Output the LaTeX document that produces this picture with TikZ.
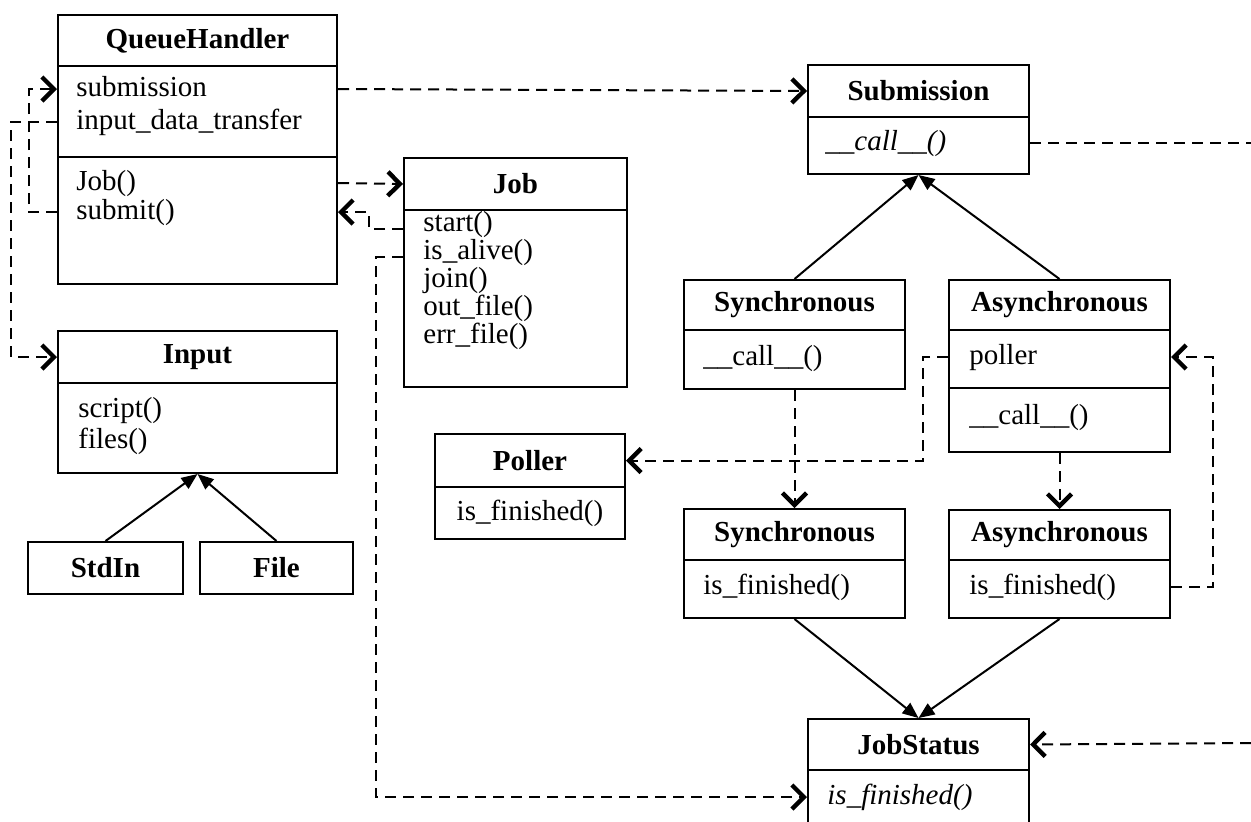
\documentclass[tikz,border=0pt]{standalone}
\usepackage{fontspec}
\setmainfont{Liberation Serif}
\usepackage{tikz}
\usetikzlibrary{arrows.meta}

\begin{document}
\begin{tikzpicture}[x=0.5pt,y=-0.5pt,
    every node/.style={font=\fontsize{14.5}{17}\selectfont},
    box/.style={draw=black,line width=1pt,anchor=north west,inner sep=0pt},
    member/.style={anchor=west,inner sep=0pt,text height=9pt,text depth=2pt},
    dep/.style={line width=1pt,dash pattern=on 5.5pt off 3.5pt,-{Straight Barb[length=6pt,width=12pt,line width=2.2pt]}},
    inherit/.style={line width=1pt,-{Triangle[length=8pt,width=6.5pt]}}]

    \useasboundingbox (0,0) rectangle (1251,821);
    \clip (0,0) rectangle (1251,821);

    % QueueHandler
    \node[box,minimum width=139.5pt,minimum height=25.5pt] (qh) at (57,14) {\textbf{QueueHandler}};
    \node[box,minimum width=139.5pt,minimum height=45.5pt] (qhattr) at (57,65) {};
    \node[box,minimum width=139.5pt,minimum height=63.5pt] (qhmeth) at (57,156) {};
    \node[member] (qhsub) at (76,89) {submission};
    \node[member] (qhinput) at (76,122) {input\_data\_transfer};
    \node[member] (qhjob) at (76,183) {Job()};
    \node[member] (qhsubmit) at (76,212) {submit()};

    % Input
    \node[box,minimum width=139.5pt,minimum height=26pt] (in) at (57,330) {\textbf{Input}};
    \node[box,minimum width=139.5pt,minimum height=45pt] (inbody) at (57,382) {};
    \node[member] (inscript) at (78,410) {script()};
    \node[member] (infiles) at (78,441) {files()};
    \node[box,minimum width=77.5pt,minimum height=26pt] (stdin) at (27,541) {\textbf{StdIn}};
    \node[box,minimum width=76.5pt,minimum height=26pt] (file) at (199,541) {\textbf{File}};

    % Job
    \node[box,minimum width=111.5pt,minimum height=26pt] (job) at (403,157) {\textbf{Job}};
    \node[box,minimum width=111.5pt,minimum height=88.5pt] (jobbody) at (403,209) {};
    \node[anchor=west,inner sep=0pt,align=left] (jmeth) at (423,281)
        {start()\\[-3pt]is\_alive()\\[-3pt]join()\\[-3pt]out\_file()\\[-3pt]err\_file()};
    \coordinate (jstartrow) at (423,229);
    \coordinate (jaliverow) at (423,257);

    % Poller
    \node[box,minimum width=95pt,minimum height=26.5pt] (poller) at (434,433) {\textbf{Poller}};
    \node[box,minimum width=95pt,minimum height=26pt] (pollerbody) at (434,486) {is\_finished()};

    % Submission
    \node[box,minimum width=110.5pt,minimum height=26pt] (sub) at (807,64) {\textbf{Submission}};
    \node[box,minimum width=110.5pt,minimum height=28.5pt] (subbody) at (807,116) {};
    \node[member] (subcall) at (825,143) {\textit{\_\_call\_\_()}};

    % Synchronous / Asynchronous
    \node[box,minimum width=110.5pt,minimum height=25pt] (sync) at (683,279) {\textbf{Synchronous}};
    \node[box,minimum width=110.5pt,minimum height=29.5pt] (syncbody) at (683,329) {};
    \node[member] (synccall) at (703,358) {\_\_call\_\_()};

    \node[box,minimum width=110.5pt,minimum height=25pt] (as) at (948,279) {\textbf{Asynchronous}};
    \node[box,minimum width=110.5pt,minimum height=29pt] (asattr) at (948,329) {};
    \node[box,minimum width=110.5pt,minimum height=32pt] (asmeth) at (948,387) {};
    \node[member] (aspoller) at (969,357) {poller};
    \node[member] (ascall) at (969,417) {\_\_call\_\_()};

    \node[box,minimum width=110.5pt,minimum height=25.5pt] (sync2) at (683,508) {\textbf{Synchronous}};
    \node[box,minimum width=110.5pt,minimum height=29pt] (sync2body) at (683,559) {};
    \node[member] (sync2fin) at (703,587) {is\_finished()};

    \node[box,minimum width=110.5pt,minimum height=25pt] (as2) at (948,509) {\textbf{Asynchronous}};
    \node[box,minimum width=110.5pt,minimum height=29pt] (as2body) at (948,559) {};
    \node[member] (as2fin) at (969,587) {is\_finished()};

    % JobStatus
    \node[box,minimum width=110.5pt,minimum height=25.5pt] (js) at (807,718) {\textbf{JobStatus}};
    \node[box,minimum width=110.5pt,minimum height=40.5pt] (jsbody) at (807,769) {};
    \node[member] (jsfin) at (827,797) {\textit{is\_finished()}};

    \coordinate (subout) at (1251,143);
    \coordinate (jsin) at (1251,743);

    % dependencies
    \draw[dep] (qhattr.east |- qhsub) -- (sub.west);
    \draw[dep] (qhmeth.west |- qhsubmit) -- ++(-28,0) |- (qhattr.west |- qhsub);
    \draw[dep] (qhattr.west |- qhinput) -- ++(-46,0) |- (in.west);
    \draw[dep] (qhmeth.east |- qhjob) -- (job.west);
    \draw[dep] (jobbody.west |- jstartrow) -- ++(-34,0) |- (qhmeth.east |- qhsubmit);
    \draw[dep] (jobbody.west |- jaliverow) -- ++(-27,0) |- (jsbody.west |- jsfin);
    \draw[dep] (syncbody.south) -- (sync2.north);
    \draw[dep] (asmeth.south) -- (as2.north);
    \draw[dep] (asattr.west |- aspoller) -- ++(-25,0) |- (poller.east);
    \draw[dep] (as2body.east |- as2fin) -- ++(42,0) |- (asattr.east |- aspoller);
    \draw[dep,-] (subbody.east |- subcall) -- (subout);
    \draw[dep] (jsin) -- (js.east);

    % inheritance
    \draw[inherit] (stdin.north) -- (inbody.south);
    \draw[inherit] (file.north) -- (inbody.south);
    \draw[inherit] (sync.north) -- (subbody.south);
    \draw[inherit] (as.north) -- (subbody.south);
    \draw[inherit] (sync2body.south) -- (js.north);
    \draw[inherit] (as2body.south) -- (js.north);
\end{tikzpicture}
\end{document}
